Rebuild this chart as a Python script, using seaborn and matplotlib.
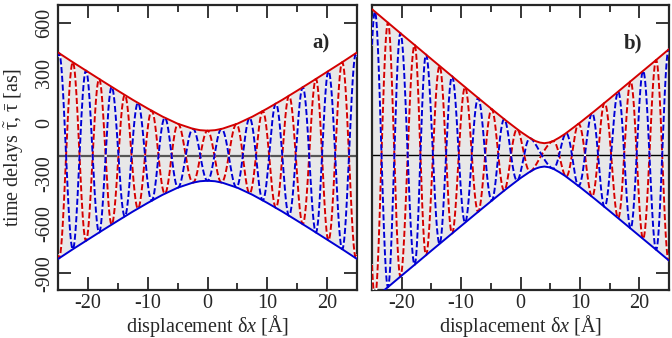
import numpy as np
import pandas as pd
import seaborn as sns
import matplotlib.pyplot as plt
from matplotlib.ticker import MultipleLocator

# envelope samples, panel a
env_x_a = [-25, -22.5, -20, -17.5, -15, -12.5, -10, -7.5, -5, -2.5, -1.25, 0,
           1.25, 2.5, 5, 7.5, 10, 12.5, 15, 17.5, 20, 22.5, 25]
upper_a = [424, 365, 308, 251, 195, 140, 88, 39, -3, -33, -42, -45,
           -42, -33, -3, 39, 88, 140, 195, 251, 308, 365, 424]
lower_a = [-814, -755, -698, -641, -585, -530, -478, -429, -387, -357, -348, -345,
           -348, -357, -387, -429, -478, -530, -585, -641, -698, -755, -814]
center_a = -195
# x of maxima of the dashed curves, panel a
red_peaks_a = [-22.5, -18.1, -13.8, -9.3, -4.9, 0.0, 4.8, 9.2, 13.6, 18.1, 22.5]
blue_peaks_a = [-24.8, -20.3, -16.0, -11.6, -7.1, -2.4, 2.3, 7.0, 11.4, 15.9, 20.2, 24.8]

# panel b
env_x_b = [-25, -22.5, -20, -17.5, -15, -12.5, -10, -7.5, -5, -2.5, 0, 1.5, 2.5,
           3.25, 4, 4.75, 5.5, 6.5, 7.5, 10, 12.5, 15, 17.5, 20, 22.5, 25]
upper_b = [683, 608, 533, 459, 384, 310, 236, 162, 89, 17, -51, -87, -107,
           -116, -120, -116, -107, -87, -64, 3, 74, 147, 221, 295, 369, 444]
lower_b = [-1063, -988, -913, -839, -764, -690, -616, -542, -469, -397, -329, -293, -273,
           -264, -260, -264, -273, -293, -316, -383, -454, -527, -601, -675, -749, -824]
center_b = -190
red_peaks_b = [-22.3, -17.8, -13.6, -9.3, -4.8, -0.5, 5.4, 9.7, 14.1, 18.5, 22.8]
blue_peaks_b = [-24.5, -20.2, -15.9, -11.5, -7.1, -2.7, 1.7, 7.6, 12.0, 16.4, 20.6, 24.9]

RED = "#d40000"
BLUE = "#0000d4"

sns.set_theme(style="ticks")
plt.rcParams["font.family"] = ["Liberation Serif", "DejaVu Serif"]
plt.rcParams["mathtext.fontset"] = "custom"
plt.rcParams["mathtext.rm"] = "Liberation Serif"
plt.rcParams["mathtext.it"] = "Liberation Serif:italic"
plt.rcParams["axes.unicode_minus"] = False


def phase_of(x, red_peaks, blue_peaks):
    nodes = sorted([(p, 0) for p in red_peaks] + [(p, 1) for p in blue_peaks])
    px = np.array([n[0] for n in nodes])
    k = np.arange(len(nodes)) + nodes[0][1]
    ph = np.interp(x, px, k * np.pi)
    lo = x < px[0]
    hi = x > px[-1]
    ph[lo] = k[0] * np.pi - (px[0] - x[lo]) * np.pi / (px[1] - px[0])
    ph[hi] = k[-1] * np.pi + (x[hi] - px[-1]) * np.pi / (px[-1] - px[-2])
    return ph


def draw(ax, env_x, upper, lower, center, red_peaks, blue_peaks, cline, label):
    env = pd.DataFrame({"x": env_x, "up": upper, "lo": lower})
    ax.fill_between(env["x"], env["lo"], env["up"], color="#e8e8e8", lw=0)
    ax.axhline(center, color=cline[0], lw=cline[1], zorder=2)

    xd = np.linspace(-25, 25, 3000)
    up = np.interp(xd, env_x, upper)
    lo = np.interp(xd, env_x, lower)
    mid = (up + lo) / 2
    half = (up - lo) / 2
    c = np.cos(phase_of(xd, red_peaks, blue_peaks))
    osc = pd.DataFrame({"x": xd, "red": mid + half * c, "blue": mid - half * c})
    for col in ["red", "blue"]:
        sns.lineplot(data=osc, x="x", y=col, ax=ax, color="#f8f8f8", lw=1.4,
                     estimator=None, sort=False, zorder=3)
    for col, colr in [("red", RED), ("blue", BLUE)]:
        sns.lineplot(data=osc, x="x", y=col, ax=ax, color=colr, lw=1.4,
                     linestyle=(0, (3.2, 1.3)), estimator=None, sort=False, zorder=4)

    sns.lineplot(data=env, x="x", y="up", ax=ax, color=RED, lw=1.4,
                 estimator=None, sort=False, zorder=5)
    sns.lineplot(data=env, x="x", y="lo", ax=ax, color=BLUE, lw=1.4,
                 estimator=None, sort=False, zorder=5)

    ax.set_xlim(-25, 25)
    ax.set_ylim(-1000, 708)
    ax.xaxis.set_major_locator(MultipleLocator(10))
    ax.xaxis.set_minor_locator(MultipleLocator(5))
    ax.set_yticks([-900, -600, -300, 0, 300, 600])
    ax.tick_params(which="both", direction="in", top=True, right=True,
                   width=1.3, labelsize=14.5, pad=3)
    ax.tick_params(which="major", length=9.5)
    ax.tick_params(which="minor", length=4.7)
    for s in ax.spines.values():
        s.set_linewidth(1.6)
    ax.set_xlabel(r"displacement δ$x$ [Å]", fontsize=14.5)
    ax.xaxis.set_label_coords(0.5, -0.08)
    ax.set_ylabel("")
    ax.text(0.91, 0.865, label, transform=ax.transAxes, fontsize=15,
            fontweight="bold", ha="right", va="center", zorder=6)


fig = plt.figure(figsize=(6.72, 3.38), dpi=100)
ax_a = fig.add_axes([0.0863, 0.142, 0.445, 0.843])
ax_b = fig.add_axes([0.5536, 0.142, 0.442, 0.843])

draw(ax_a, env_x_a, upper_a, lower_a, center_a, red_peaks_a, blue_peaks_a,
     ("#555555", 1.6), "a)")
draw(ax_b, env_x_b, upper_b, lower_b, center_b, red_peaks_b, blue_peaks_b,
     ("black", 1.0), "b)")

for t in ax_a.get_yticklabels():
    t.set_rotation(90)
    t.set_va("center")
ax_a.tick_params(axis="y", pad=3)
ax_b.set_yticklabels([])
ax_a.set_ylabel(r"time delays $\tilde{\mathrm{\tau}}$, $\bar{\mathrm{\tau}}$ [as]",
                fontsize=14.5)
ax_a.yaxis.set_label_coords(-0.107, 0.5)

fig.savefig("out.png", dpi=100)
